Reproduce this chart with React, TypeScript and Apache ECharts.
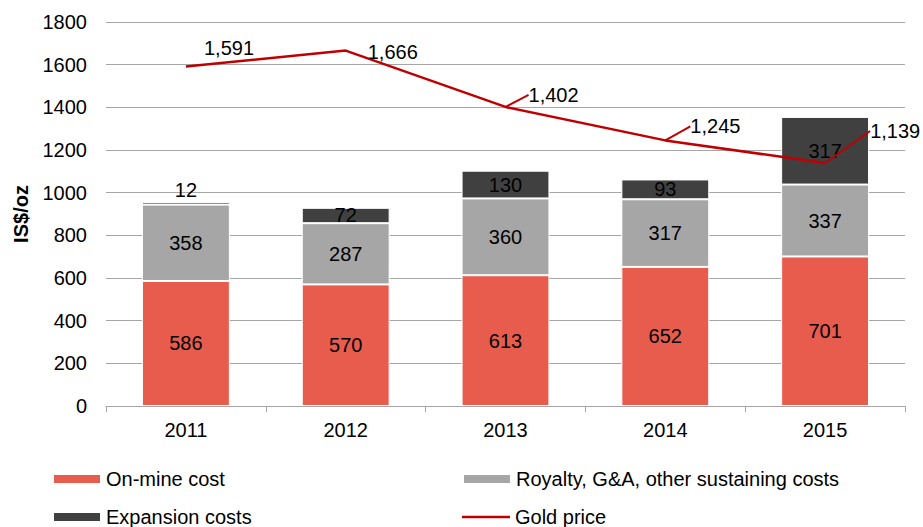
import React, { useEffect, useRef } from "react";
import * as echarts from "echarts";

const years = ["2011", "2012", "2013", "2014", "2015"];
const onMine = [586, 570, 613, 652, 701];
const royalty = [358, 287, 360, 317, 337];
const expansion = [12, 72, 130, 93, 317];
const goldPrice = [1591, 1666, 1402, 1245, 1139];

const labelShifts = [
  { dx: 13, dy: -19, line: false },
  { dx: 17, dy: 1, line: false },
  { dx: 18, dy: -12, line: true },
  { dx: 20, dy: -14, line: true },
  { dx: 40, dy: -32, line: true },
];

const FONT = "Liberation Sans, Arial, sans-serif";

export default function App() {
  const ref = useRef<HTMLDivElement>(null);
  useEffect(() => {
    if (!ref.current) return;
    const chart = echarts.init(ref.current, null, { renderer: "svg" });
    const barLabel = {
      show: true,
      position: "inside",
      color: "#000",
      fontSize: 20,
      fontFamily: FONT,
    };
    const legendBase = {
      orient: "horizontal",
      itemWidth: 48,
      itemHeight: 10,
      padding: 0,
      icon: "rect",
      textStyle: { color: "#000", fontSize: 20, fontFamily: FONT },
      selectedMode: false,
    };
    chart.setOption({
      animation: false,
      textStyle: { fontFamily: FONT },
      grid: { left: 106, right: 18, top: 22, bottom: 121, containLabel: false },
      legend: [
        { ...legendBase, left: 52, top: 469, data: ["On-mine cost"] },
        { ...legendBase, left: 462, top: 469, data: ["Royalty, G&A, other sustaining costs"] },
        { ...legendBase, left: 52, top: 507, data: ["Expansion costs"] },
        { ...legendBase, left: 462, top: 507, itemHeight: 2.5, data: ["Gold price"] },
      ],
      xAxis: {
        type: "category",
        data: years,
        axisLine: { show: true, lineStyle: { color: "#A6A6A6", width: 1 } },
        axisTick: { show: true, length: 6, lineStyle: { color: "#A6A6A6" } },
        axisLabel: { color: "#000", fontSize: 20, fontFamily: FONT, margin: 14 },
      },
      yAxis: {
        type: "value",
        min: 0,
        max: 1800,
        interval: 200,
        name: "IS$/oz",
        nameLocation: "middle",
        nameGap: 75,
        nameRotate: 90,
        nameTextStyle: { color: "#000", fontSize: 20, fontWeight: "bold", fontFamily: FONT },
        axisLine: { show: false },
        axisTick: { show: false },
        axisLabel: {
          color: "#000",
          fontSize: 20,
          fontFamily: FONT,
          margin: 19,
          formatter: (v: number) => String(v),
        },
        splitLine: { lineStyle: { color: "#A6A6A6", width: 1 } },
      },
      series: [
        {
          name: "On-mine cost",
          type: "bar",
          stack: "cost",
          barWidth: "55%",
          itemStyle: { color: "#E85C4E", borderColor: "#fff", borderWidth: 1 },
          label: barLabel,
          data: onMine,
        },
        {
          name: "Royalty, G&A, other sustaining costs",
          type: "bar",
          stack: "cost",
          itemStyle: { color: "#A6A6A6", borderColor: "#fff", borderWidth: 1 },
          label: barLabel,
          data: royalty,
        },
        {
          name: "Expansion costs",
          type: "bar",
          stack: "cost",
          itemStyle: { color: "#404040", borderColor: "#fff", borderWidth: 1 },
          label: barLabel,
          data: expansion.map((v, i) =>
            i === 0 ? { value: v, label: { position: "top", distance: 2 } } : v
          ),
        },
        {
          name: "Gold price",
          type: "line",
          symbol: "circle",
          symbolSize: 0.1,
          showSymbol: true,
          z: 5,
          lineStyle: { color: "#C00000", width: 2.5 },
          itemStyle: { color: "#C00000" },
          label: {
            show: true,
            position: "right",
            distance: 5,
            color: "#000",
            fontSize: 20,
            fontFamily: FONT,
            formatter: (p: any) => Number(p.value).toLocaleString("en-US"),
          },
          labelLine: { show: true, lineStyle: { color: "#C00000", width: 2 } },
          labelLayout: (p: any) => {
            const s = labelShifts[p.dataIndex];
            return { dx: s.dx, dy: s.dy };
          },
          data: goldPrice.map((v, i) => ({
            value: v,
            labelLine: { show: labelShifts[i].line },
          })),
        },
      ],
    });
    return () => chart.dispose();
  }, []);
  return <div ref={ref} style={{ width: 923, height: 527, position: "absolute", left: 0, top: 0 }} />;
}
